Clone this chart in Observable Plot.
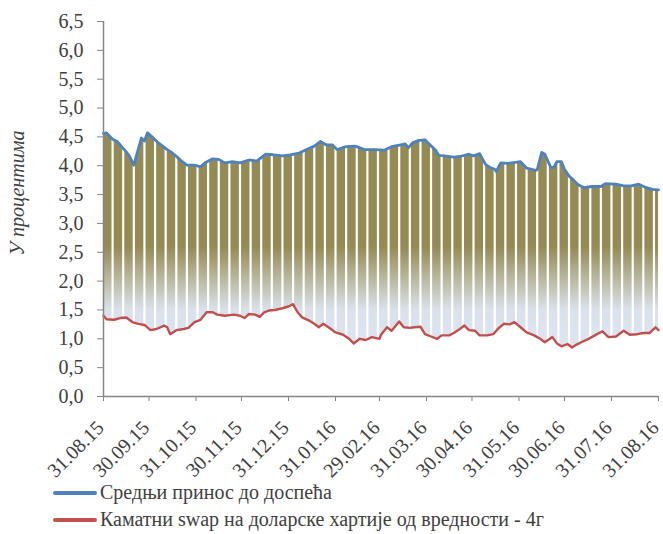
<!DOCTYPE html>
<html><head><meta charset="utf-8">
<script src="https://cdn.jsdelivr.net/npm/d3@7"></script>
<script src="https://cdn.jsdelivr.net/npm/@observablehq/plot@0.6"></script>
<style>
body{margin:0;background:#fff;font-family:"Liberation Serif",serif;}
#legend{padding-top:4px;}
.row{display:flex;align-items:center;height:27px;font-size:20px;color:#404040;white-space:nowrap;}
.sw{width:44px;height:4px;border-radius:2px;margin-left:53px;margin-right:3px;}
</style></head><body>
<div id="chart"></div>
<div id="legend"></div>
<script>
const seriesNames = ["Средњи принос до доспећа", "Каматни swap на доларске хартије од вредности - 4г"];
const seriesColors = ["#4f81bd", "#c0504d"];
const yLabel = "У процентима";

const blueDates = ["2015-08-31","2015-09-02","2015-09-06","2015-09-09","2015-09-14","2015-09-17","2015-09-20","2015-09-22","2015-09-25","2015-09-27","2015-09-29","2015-10-02","2015-10-06","2015-10-09","2015-10-12","2015-10-15","2015-10-19","2015-10-22","2015-10-25","2015-10-30","2015-11-03","2015-11-06","2015-11-11","2015-11-15","2015-11-19","2015-11-24","2015-11-29","2015-12-05","2015-12-10","2015-12-16","2015-12-21","2015-12-27","2016-01-01","2016-01-07","2016-01-12","2016-01-17","2016-01-21","2016-01-25","2016-01-29","2016-02-01","2016-02-07","2016-02-13","2016-02-19","2016-02-26","2016-03-03","2016-03-08","2016-03-14","2016-03-17","2016-03-19","2016-03-22","2016-03-26","2016-03-30","2016-04-02","2016-04-06","2016-04-08","2016-04-12","2016-04-18","2016-04-22","2016-04-28","2016-05-01","2016-05-05","2016-05-09","2016-05-12","2016-05-15","2016-05-16","2016-05-19","2016-05-24","2016-06-01","2016-06-05","2016-06-11","2016-06-12","2016-06-15","2016-06-17","2016-06-21","2016-06-23","2016-06-25","2016-06-28","2016-06-30","2016-07-03","2016-07-06","2016-07-09","2016-07-13","2016-07-18","2016-07-24","2016-07-27","2016-08-03","2016-08-08","2016-08-13","2016-08-18","2016-08-23","2016-08-27","2016-08-31"];
const blueValues = [4.56,4.57,4.46,4.42,4.27,4.17,4.01,4.20,4.48,4.43,4.57,4.50,4.40,4.34,4.28,4.23,4.14,4.07,4.01,4.01,3.98,4.05,4.12,4.11,4.05,4.07,4.05,4.10,4.08,4.20,4.19,4.17,4.19,4.22,4.28,4.34,4.42,4.36,4.36,4.28,4.33,4.34,4.28,4.28,4.27,4.33,4.36,4.38,4.31,4.40,4.44,4.45,4.37,4.27,4.18,4.17,4.15,4.16,4.20,4.17,4.21,4.02,3.97,3.94,3.90,4.05,4.04,4.07,3.96,3.92,3.93,4.23,4.20,3.97,3.97,4.07,4.07,3.94,3.82,3.75,3.67,3.62,3.64,3.64,3.69,3.68,3.65,3.65,3.68,3.62,3.59,3.58];

const redDates = ["2015-08-31","2015-09-02","2015-09-07","2015-09-11","2015-09-15","2015-09-19","2015-09-23","2015-09-27","2015-10-01","2015-10-05","2015-10-10","2015-10-12","2015-10-14","2015-10-18","2015-10-23","2015-10-26","2015-10-30","2015-11-03","2015-11-07","2015-11-11","2015-11-14","2015-11-19","2015-11-25","2015-11-29","2015-12-02","2015-12-05","2015-12-09","2015-12-12","2015-12-15","2015-12-18","2015-12-22","2015-12-27","2015-12-31","2016-01-03","2016-01-06","2016-01-09","2016-01-14","2016-01-17","2016-01-20","2016-01-23","2016-01-28","2016-01-31","2016-02-05","2016-02-09","2016-02-12","2016-02-16","2016-02-20","2016-02-24","2016-02-29","2016-03-01","2016-03-05","2016-03-08","2016-03-13","2016-03-16","2016-03-20","2016-03-23","2016-03-27","2016-03-30","2016-04-03","2016-04-07","2016-04-10","2016-04-15","2016-04-18","2016-04-22","2016-04-25","2016-04-28","2016-05-02","2016-05-05","2016-05-10","2016-05-14","2016-05-17","2016-05-21","2016-05-25","2016-05-28","2016-06-01","2016-06-05","2016-06-10","2016-06-14","2016-06-17","2016-06-22","2016-06-25","2016-06-28","2016-07-02","2016-07-05","2016-07-08","2016-07-11","2016-07-16","2016-07-20","2016-07-25","2016-07-29","2016-08-03","2016-08-08","2016-08-12","2016-08-17","2016-08-21","2016-08-25","2016-08-29","2016-08-31"];
const redValues = [1.40,1.34,1.33,1.36,1.37,1.29,1.26,1.24,1.15,1.17,1.23,1.20,1.08,1.15,1.17,1.19,1.29,1.33,1.46,1.46,1.42,1.40,1.42,1.40,1.36,1.43,1.42,1.38,1.46,1.49,1.50,1.53,1.56,1.60,1.46,1.37,1.31,1.26,1.20,1.26,1.17,1.11,1.07,1.00,0.92,1.00,0.98,1.03,1.00,1.07,1.20,1.14,1.30,1.20,1.19,1.20,1.21,1.08,1.04,1.00,1.06,1.06,1.10,1.17,1.23,1.15,1.14,1.06,1.06,1.08,1.17,1.26,1.25,1.29,1.20,1.11,1.06,1.00,0.94,1.03,0.92,0.87,0.91,0.85,0.90,0.94,1.00,1.06,1.13,1.03,1.04,1.14,1.07,1.08,1.10,1.10,1.20,1.15];

const xTickDates = ["2015-08-31","2015-09-30","2015-10-31","2015-11-30","2015-12-31","2016-01-31","2016-02-29","2016-03-31","2016-04-30","2016-05-31","2016-06-30","2016-07-31","2016-08-31"];
const yTicks = [0,0.5,1,1.5,2,2.5,3,3.5,4,4.5,5,5.5,6,6.5];

const parse = d3.utcParse("%Y-%m-%d");
const blue = blueDates.map((d, i) => ({date: parse(d), v: blueValues[i]}));
const red = redDates.map((d, i) => ({date: parse(d), v: redValues[i]}));
const xStart = parse(xTickDates[0]);
const xEnd = parse(xTickDates[xTickDates.length - 1]);
const xTicks = xTickDates.map(parse);
const gapDates = d3.utcSunday.range(xStart, xEnd);
const fmtY = d => d.toFixed(1).replace(".", ",");
const fmtX = d3.utcFormat("%d.%m.%y");
const axisGray = "#868686";
const textColor = "#404040";
const serif = "\"Liberation Serif\", serif";

const chart = Plot.plot({
  width: 663, height: 475,
  marginLeft: 103, marginRight: 5, marginTop: 21, marginBottom: 79,
  style: {fontFamily: serif, fontSize: "20px", background: "#fff", overflow: "visible"},
  x: {type: "utc", domain: [xStart, xEnd]},
  y: {domain: [0, 6.5]},
  marks: [
    Plot.areaY(blue, {x: "date", y: "v", fill: "url(#barGrad)"}),
    Plot.areaY(red, {x: "date", y: "v", fill: "white"}),
    Plot.ruleX(gapDates, {y1: 0, y2: 6.5, stroke: "white", strokeWidth: 2.2}),
    Plot.line(blue, {x: "date", y: "v", stroke: seriesColors[0], strokeWidth: 2.8}),
    Plot.line(red, {x: "date", y: "v", stroke: seriesColors[1], strokeWidth: 2.4}),
    Plot.ruleY([0], {stroke: axisGray, strokeWidth: 1.5}),
    Plot.ruleX([xStart], {stroke: axisGray, strokeWidth: 1.5}),
    Plot.axisY({ticks: yTicks, tickFormat: fmtY, tickSize: 6, tickPadding: 14, stroke: axisGray, fill: textColor, fontSize: 20, fontFamily: serif, label: null}),
    Plot.axisX({ticks: xTicks, tickFormat: () => "", tickSize: 5, stroke: axisGray, label: null}),
    Plot.axisX({ticks: xTicks, tickFormat: fmtX, tickSize: 0, tickPadding: 28, dx: -3, tickRotate: -45, fill: textColor, fontSize: 20, fontFamily: serif, label: null}),
    Plot.text([yLabel], {frameAnchor: "left", rotate: -90, dx: -86, dy: -16, textAnchor: "middle", fontStyle: "italic", fontSize: 20, fontFamily: serif, fill: textColor})
  ]
});

const ys = chart.scale("y");
const y1 = ys.apply(4.6), y2 = ys.apply(0.8);
const off = v => (4.6 - v) / 3.8;
d3.select(chart).insert("defs", ":first-child").html(
  `<linearGradient id="barGrad" gradientUnits="userSpaceOnUse" x1="0" x2="0" y1="${y1}" y2="${y2}">
     <stop offset="0" stop-color="#948a54"/>
     <stop offset="${off(2.6)}" stop-color="#948a54"/>
     <stop offset="${off(2.05)}" stop-color="#b9b69c"/>
     <stop offset="${off(1.5)}" stop-color="#d9e1eb"/>
     <stop offset="1" stop-color="#dce6f2"/>
   </linearGradient>`);
document.getElementById("chart").appendChild(chart);

const legend = document.getElementById("legend");
seriesNames.forEach((name, i) => {
  const row = document.createElement("div");
  row.className = "row";
  const sw = document.createElement("div");
  sw.className = "sw";
  sw.style.background = seriesColors[i];
  const t = document.createElement("span");
  t.textContent = name;
  row.appendChild(sw); row.appendChild(t);
  legend.appendChild(row);
});
</script>
</body></html>
